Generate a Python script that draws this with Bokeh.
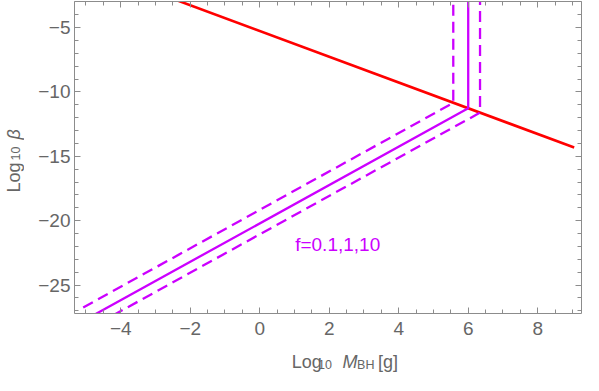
import numpy as np
from math import pi
from bokeh.plotting import figure
from bokeh.layouts import row, column
from bokeh.models import Range1d, LinearAxis, CustomJSTickFormatter, FixedTicker
from bokeh.core.properties import value
from bokeh.embed import file_html
from bokeh.resources import INLINE

# ---- data ----
red_x = [-3.0, 9.05]
red_y = [-2.27, -14.32]

f1_x = [-5.08, 6.0, 6.0]
f1_y = [-27.78, -11.27, -2.0]

f01_x = [-5.08, 5.57, 5.57]
f01_y = [-26.74, -10.85, -2.0]

f10_x = [-5.08, 6.34, 6.34]
f10_y = [-28.63, -11.61, -2.0]

x_ticks = [-4, -2, 0, 2, 4, 6, 8]
y_ticks = [-25, -20, -15, -10, -5]
x_minor = list(np.arange(-5.0, 9.01, 0.5))
y_minor = list(np.arange(-27.0, -2.9, 1.0))

annot_text = ["f=0.1,1,10"]
annot_x = [1.02]
annot_y = [-21.81]

xlab_parts = ["Log", "10", "M", "BH", "[g]"]
ylab_parts = ["Log", "10", "\u03b2"]

MAG = "#CC00FF"
RED = "#FF0000"
FRAME = "#8c8c8c"
TXT = "#666666"
FONT = "Liberation Sans"

# ---- main plot ----
p = figure(width=558, height=344,
           x_range=Range1d(-5.33, 9.26), y_range=Range1d(-27.205, -2.981),
           output_backend="svg", toolbar_location=None,
           min_border_left=50, min_border_right=1, min_border_top=1, min_border_bottom=31,
           background_fill_color="white", border_fill_color="white")
p.xgrid.visible = False
p.ygrid.visible = False
p.outline_line_color = None
bottom = p.below[0]
left = p.left[0]

p.line(red_x, red_y, line_color=RED, line_width=2.6)
p.line(f1_x, f1_y, line_color=MAG, line_width=2.3)
p.line(f01_x, f01_y, line_color=MAG, line_width=2.3, line_dash="11 6")
p.line(f10_x, f10_y, line_color=MAG, line_width=2.3, line_dash="11 6")
p.text(annot_x, annot_y, text=annot_text, text_color=MAG, text_font=value(FONT),
       text_font_size="19px", text_baseline="alphabetic", text_align="left")

fmt = CustomJSTickFormatter(code="return tick < 0 ? '\\u2212' + (-tick) : '' + tick;")
blank = CustomJSTickFormatter(code="return '';")

top = LinearAxis()
right = LinearAxis()
p.add_layout(top, "above")
p.add_layout(right, "right")

for ax in [bottom, top]:
    ax.ticker = FixedTicker(ticks=x_ticks, minor_ticks=x_minor)
for ax in [left, right]:
    ax.ticker = FixedTicker(ticks=y_ticks, minor_ticks=y_minor)

for ax in [bottom, left, top, right]:
    ax.axis_line_color = FRAME
    ax.major_tick_line_color = FRAME
    ax.minor_tick_line_color = FRAME
    ax.major_tick_in = 6
    ax.major_tick_out = 0
    ax.minor_tick_in = 4
    ax.minor_tick_out = 0
    ax.major_label_text_color = TXT
    ax.major_label_text_font = FONT
    ax.major_label_text_font_size = "19px"

bottom.formatter = fmt
left.formatter = fmt
bottom.major_label_standoff = 8
left.major_label_standoff = 4
for ax in [top, right]:
    ax.formatter = blank
    ax.major_label_standoff = 0

def blank_fig(w, h):
    f = figure(width=w, height=h, x_range=Range1d(0, w), y_range=Range1d(0, h),
               output_backend="svg", toolbar_location=None, min_border=0,
               title_location=None,
               background_fill_color="white", border_fill_color="white")
    f.axis.visible = False
    f.grid.visible = False
    f.outline_line_color = None
    return f

# ---- x axis title: Log_10 M_BH [g] ----
xl = blank_fig(558, 29)
xl.text([239, 295, 334], [12, 12, 12], text=[xlab_parts[0], xlab_parts[2], xlab_parts[4]],
        text_color=TXT, text_font=value(FONT), text_font_size="18px",
        text_font_style=["normal", "italic", "normal"],
        text_baseline="alphabetic", text_align="left")
xl.text([268, 311], [9, 9], text=[xlab_parts[1], xlab_parts[3]],
        text_color=TXT, text_font=value(FONT), text_font_size="12.5px",
        text_baseline="alphabetic", text_align="left")

# ---- y axis title: Log_10 beta ----
yl = blank_fig(24, 373)
yl.text([13.7, 13.7], [181, 234], text=[ylab_parts[0], ylab_parts[2]],
        text_color=TXT, text_font=value(FONT), text_font_size="18px",
        text_font_style=["normal", "italic"], angle=pi / 2,
        text_baseline="alphabetic", text_align="left")
yl.text([15.3], [213], text=[ylab_parts[1]], angle=pi / 2,
        text_color=TXT, text_font=value(FONT), text_font_size="12.5px",
        text_baseline="alphabetic", text_align="left")

layout = row(yl, column(p, xl))
open("out.html", "w").write(file_html(layout, INLINE))
